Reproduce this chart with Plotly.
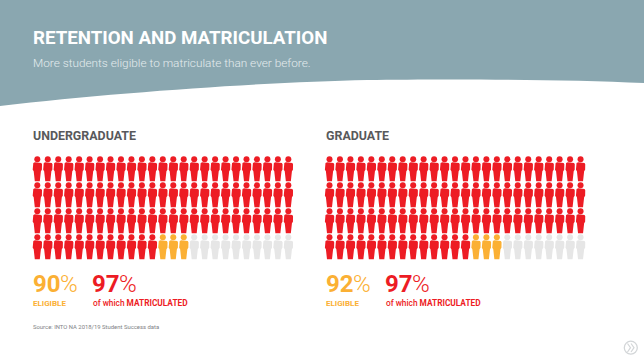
import plotly.graph_objects as go

# --- data ---
groups = ["UNDERGRADUATE", "GRADUATE"]
eligible_pct = [90, 92]
matriculated_pct = [97, 97]
matriculated_count = [87, 89]
eligible_count = [90, 92]
total_count = [100, 100]
title = "RETENTION AND MATRICULATION"
subtitle = "More students eligible to matriculate than ever before."
source = "Source: INTO NA 2018/19 Student Success data"

# --- layout of the pictogram ---
COLS = 25
ROWS = 4
X0 = [37.3, 329.5]
DX = 10.46
Y0 = 159.3
DY = 26.0
RED, ORANGE, GREY = "#ED1C24", "#FBB034", "#E6E6E6"
TEAL = "#8AA7B0"

# person's body, relative to the head's centre
BODY = [(-2.4, 3.0), (2.4, 3.0), (4.0, 3.6), (4.7, 5.0), (4.6, 10.5), (3.6, 12.0),
        (2.5, 22.0), (-2.5, 22.0),
        (-3.6, 12.0), (-4.6, 10.5), (-4.7, 5.0), (-4.0, 3.6)]

fig = go.Figure()

# header band
fig.add_shape(type="path", xref="x", yref="y", line_width=0, fillcolor=TEAL, layer="below",
              path="M0,0 L644,0 L644,83 C560,79 440,79 367,80 C270,82 120,92 0,106 Z")


def add_people(x0, first, last, color):
    xs, ys, hx, hy = [], [], [], []
    for i in range(first, last):
        col, row = i % COLS, i // COLS
        cx, cy = x0 + col * DX, Y0 + row * DY
        hx.append(cx)
        hy.append(cy)
        for dx, dy in BODY + BODY[:1]:
            xs.append(cx + dx)
            ys.append(cy + dy)
        xs.append(None)
        ys.append(None)
    fig.add_trace(go.Scatter(x=xs, y=ys, mode="lines", fill="toself", fillcolor=color,
                             line=dict(width=0, color=color), hoverinfo="skip"))
    fig.add_trace(go.Scatter(x=hx, y=hy, mode="markers", hoverinfo="skip",
                             marker=dict(size=6, color=color, line_width=0)))


for g in range(len(groups)):
    add_people(X0[g], 0, matriculated_count[g], RED)
    add_people(X0[g], matriculated_count[g], eligible_count[g], ORANGE)
    add_people(X0[g], eligible_count[g], total_count[g], GREY)

FONT = "Roboto"


def text(x, y, s, size, color, weight=400):
    fig.add_annotation(x=x, y=y, text=s, xref="x", yref="y", xanchor="left", yanchor="middle",
                       showarrow=False, font=dict(size=size, color=color, family=FONT, weight=weight),
                       xshift=-2, align="left")


text(32.5, 38, title, 18.7, "#FFFFFF", 700)
text(32.5, 63, subtitle, 11.8, "#E4ECEE", 300)

LABEL_X = [32.5, 325.5]
for g in range(len(groups)):
    lx = LABEL_X[g]
    text(lx, 135.5, groups[g], 12.4, "#58595B", 700)
    text(lx, 284, str(eligible_pct[g]), 24, ORANGE, 700)
    text(lx + 27, 284, "%", 24, ORANGE, 300)
    text(lx, 303, "ELIGIBLE", 8, ORANGE, 700)
    text(lx + 59, 284, str(matriculated_pct[g]), 24, RED, 700)
    text(lx + 86, 284, "%", 24, RED, 300)
    text(lx + 60, 303, "of which <b>MATRICULATED</b>", 8.3, RED, 500)

text(32.5, 327, source, 5.9, "#808285")

# next-page marker
fig.add_trace(go.Scatter(x=[630.8], y=[347.7], mode="markers", hoverinfo="skip",
                         marker=dict(size=13, color="rgba(0,0,0,0)", line=dict(width=1.3, color="#D3D6D8"))))
fig.add_trace(go.Scatter(x=[627.5, 630.5, 627.5, None, 631, 634, 631],
                         y=[343.5, 347.7, 352, None, 343.5, 347.7, 352], mode="lines", hoverinfo="skip",
                         line=dict(width=1.2, color="#D3D6D8")))

fig.update_layout(
    width=644, height=359, margin=dict(l=0, r=0, t=0, b=0),
    paper_bgcolor="#FFFFFF", plot_bgcolor="#FFFFFF", showlegend=False,
    xaxis=dict(range=[0, 644], visible=False, fixedrange=True),
    yaxis=dict(range=[359, 0], visible=False, fixedrange=True),
)

fig.write_html("out.html", config={"displayModeBar": False},
               post_script="document.body.style.margin='0';document.body.style.overflow='hidden';")
